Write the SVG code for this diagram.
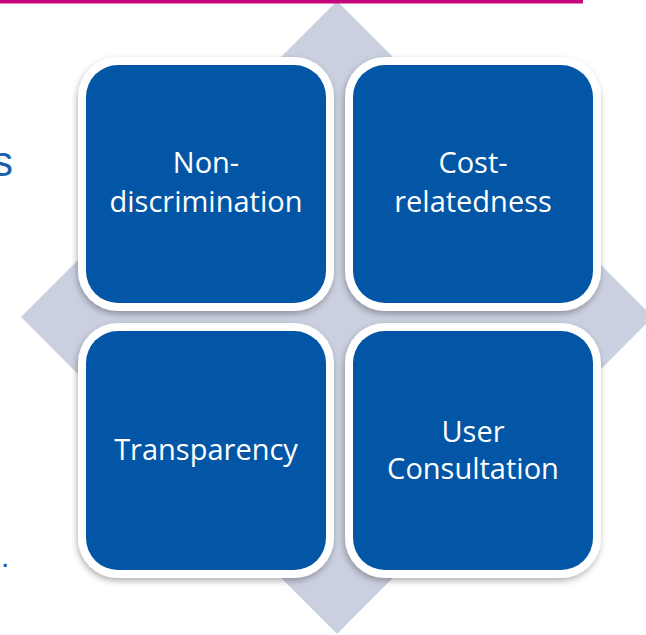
<svg xmlns="http://www.w3.org/2000/svg" width="646" height="635" viewBox="0 0 646 635">
  <defs>
    <filter id="sh" x="-10%" y="-10%" width="120%" height="120%">
      <feDropShadow dx="-1" dy="3" stdDeviation="3" flood-color="#000" flood-opacity="0.3"/>
    </filter>
  </defs>
  <style>
    .frame { fill: #ffffff; filter: url(#sh); }
    .tile { fill: #0356A5; }
    .lbl { font-family: "Open Sans", "Noto Sans", sans-serif; font-size: 29px; fill: #ffffff; text-anchor: middle; }
    .side { font-family: "Liberation Sans", Arial, sans-serif; fill: #1A5EA8; }
  </style>
  <rect width="646" height="635" fill="#ffffff"/>
  <g id="background">
    <polygon points="337,1 653,317 337,634 21,317" fill="#CBD0E0"/>
    <rect x="0" y="0" width="583" height="3.5" fill="#C6077C"/>
    <text class="side" x="13" y="176" font-size="42" text-anchor="end">s</text>
    <text class="side" x="1" y="567" font-size="30">.</text>
  </g>
  <g id="connectors"></g>
  <g id="node-nondiscrimination">
    <rect class="frame" x="78" y="57" width="256" height="254" rx="40"/>
    <rect class="tile" x="86" y="65" width="240" height="238" rx="32"/>
    <text class="lbl" x="206" y="173">Non-</text>
    <text class="lbl" x="206" y="212">discrimination</text>
  </g>
  <g id="node-costrelatedness">
    <rect class="frame" x="345" y="57" width="256" height="254" rx="40"/>
    <rect class="tile" x="353" y="65" width="240" height="238" rx="32"/>
    <text class="lbl" x="473" y="173">Cost-</text>
    <text class="lbl" x="473" y="212">relatedness</text>
  </g>
  <g id="node-transparency">
    <rect class="frame" x="78" y="323" width="256" height="255" rx="40"/>
    <rect class="tile" x="86" y="331" width="240" height="239" rx="32"/>
    <text class="lbl" x="206" y="460">Transparency</text>
  </g>
  <g id="node-userconsultation">
    <rect class="frame" x="345" y="323" width="256" height="255" rx="40"/>
    <rect class="tile" x="353" y="331" width="240" height="239" rx="32"/>
    <text class="lbl" x="473" y="442">User</text>
    <text class="lbl" x="473" y="479">Consultation</text>
  </g>
</svg>
